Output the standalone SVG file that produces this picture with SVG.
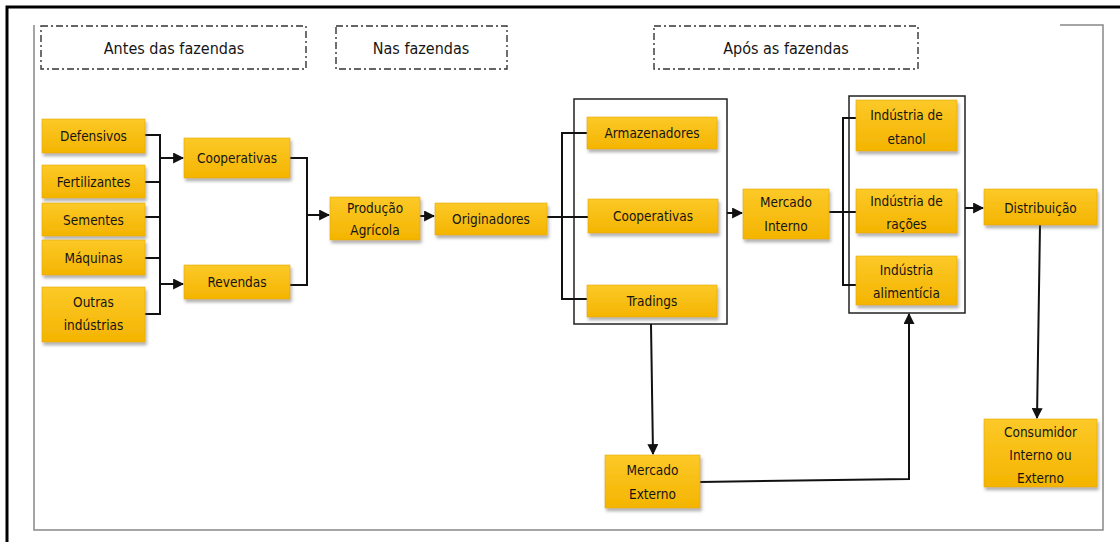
<svg xmlns="http://www.w3.org/2000/svg" width="1120" height="542" viewBox="0 0 1120 542">
<style>
.bx{fill:url(#g);stroke:#e3a900;stroke-width:0.6;filter:url(#sh)}
.t{font-family:"Liberation Sans Narrow","DejaVu Sans Condensed","Liberation Sans",sans-serif;font-size:13.5px;fill:#151515;text-anchor:middle;dominant-baseline:central}
.h{font-family:"Liberation Sans Narrow","DejaVu Sans Condensed","Liberation Sans",sans-serif;font-size:16px;fill:#151515;text-anchor:middle;dominant-baseline:central}
.hb{fill:none;stroke:#333;stroke-width:1.4;stroke-dasharray:7,3,2,3}
.c{fill:none;stroke:#111;stroke-width:2}
.grp{fill:none;stroke:#222;stroke-width:1.5}
</style>
<defs>
<linearGradient id="g" x1="0" y1="0" x2="0" y2="1">
<stop offset="0" stop-color="#fcc928"/>
<stop offset="1" stop-color="#f4b400"/>
</linearGradient>
<filter id="sh" x="-10%" y="-10%" width="130%" height="140%">
<feDropShadow dx="1.5" dy="3" stdDeviation="1.5" flood-color="#555" flood-opacity="0.45"/>
</filter>
<marker id="a" viewBox="0 0 10 10" refX="9" refY="5" markerWidth="5.5" markerHeight="5.5" orient="auto-start-reverse" markerUnits="strokeWidth">
<path d="M0,0 L10,5 L0,10 z" fill="#111"/>
</marker>
</defs>
<rect width="1120" height="542" fill="#fff"/>
<path d="M7,542 V7 H1120" fill="none" stroke="#000" stroke-width="3"/>
<path d="M34,25 V530 H1103 V25 H1060" fill="none" stroke="#888" stroke-width="1.5"/>

<g id="headers">
<g id="h-antes"><rect class="hb" x="41" y="26" width="265" height="43"/><text class="h" x="174" y="48">Antes das fazendas</text></g>
<g id="h-nas"><rect class="hb" x="336" y="26" width="171" height="43"/><text class="h" x="421" y="48">Nas fazendas</text></g>
<g id="h-apos"><rect class="hb" x="654" y="26" width="264" height="43"/><text class="h" x="786" y="48">Após as fazendas</text></g>
</g>

<g id="groups">
<rect class="grp" x="574" y="99" width="153" height="225"/>
<rect class="grp" x="849" y="96" width="116" height="217"/>
</g>

<g id="connectors">
<path class="c" d="M145,135 H160 M145,182 H160 M145,217 H160 M145,258 H160 M145,314 H160 M160,134 V315"/>
<path class="c" d="M160,158 H183" marker-end="url(#a)"/>
<path class="c" d="M160,284 H183" marker-end="url(#a)"/>
<path class="c" d="M290,158 H307 V285 H290"/>
<path class="c" d="M307,215 H329" marker-end="url(#a)"/>
<path class="c" d="M420,216 H434" marker-end="url(#a)"/>
<path class="c" d="M547,217 H588 M587,133 H562 V299 H587"/>
<path class="c" d="M727,213 H742" marker-end="url(#a)"/>
<path class="c" d="M829,212 H856 M856,118 H843 V285 H856"/>
<path class="c" d="M965,208 H983" marker-end="url(#a)"/>
<path class="c" d="M1040,225 L1037,418" marker-end="url(#a)"/>
<path class="c" d="M651,324 L653,454" marker-end="url(#a)"/>
<path class="c" d="M700,482 L909,479 V314" marker-end="url(#a)"/>
</g>

<g id="n-defensivos"><rect class="bx" x="42" y="119" width="103" height="34"/><text class="t" x="93.5" y="136">Defensivos</text></g>
<g id="n-fertilizantes"><rect class="bx" x="42" y="165" width="103" height="33"/><text class="t" x="93.5" y="181.5">Fertilizantes</text></g>
<g id="n-sementes"><rect class="bx" x="42" y="203" width="103" height="33"/><text class="t" x="93.5" y="219.5">Sementes</text></g>
<g id="n-maquinas"><rect class="bx" x="42" y="240" width="103" height="35"/><text class="t" x="93.5" y="258">Máquinas</text></g>
<g id="n-outras"><rect class="bx" x="42" y="287" width="103" height="55"/><text class="t" x="93.5" y="302">Outras</text><text class="t" x="93.5" y="325">indústrias</text></g>
<g id="n-cooperativas1"><rect class="bx" x="184" y="138" width="106" height="40"/><text class="t" x="237" y="158">Cooperativas</text></g>
<g id="n-revendas"><rect class="bx" x="184" y="265" width="106" height="34"/><text class="t" x="237" y="282">Revendas</text></g>
<g id="n-producao"><rect class="bx" x="330" y="197" width="90" height="43"/><text class="t" x="375" y="208">Produção</text><text class="t" x="375" y="230">Agrícola</text></g>
<g id="n-originadores"><rect class="bx" x="435" y="203" width="112" height="32"/><text class="t" x="491" y="219">Originadores</text></g>
<g id="n-armazenadores"><rect class="bx" x="587" y="117" width="130" height="32"/><text class="t" x="652" y="133">Armazenadores</text></g>
<g id="n-cooperativas2"><rect class="bx" x="588" y="199" width="130" height="34"/><text class="t" x="653" y="216">Cooperativas</text></g>
<g id="n-tradings"><rect class="bx" x="587" y="285" width="130" height="32"/><text class="t" x="652" y="301">Tradings</text></g>
<g id="n-mercado-interno"><rect class="bx" x="743" y="189" width="86" height="50"/><text class="t" x="786" y="202">Mercado</text><text class="t" x="786" y="226">Interno</text></g>
<g id="n-etanol"><rect class="bx" x="856" y="100" width="101" height="51"/><text class="t" x="906.5" y="115">Indústria de</text><text class="t" x="906.5" y="139">etanol</text></g>
<g id="n-racoes"><rect class="bx" x="856" y="189" width="101" height="44"/><text class="t" x="906.5" y="201">Indústria de</text><text class="t" x="906.5" y="224">rações</text></g>
<g id="n-alimenticia"><rect class="bx" x="856" y="256" width="101" height="49"/><text class="t" x="906.5" y="270">Indústria</text><text class="t" x="906.5" y="293">alimentícia</text></g>
<g id="n-distribuicao"><rect class="bx" x="984" y="189" width="113" height="36"/><text class="t" x="1040.5" y="208">Distribuição</text></g>
<g id="n-consumidor"><rect class="bx" x="984" y="419" width="113" height="68"/><text class="t" x="1040.5" y="432">Consumidor</text><text class="t" x="1040.5" y="455">Interno ou</text><text class="t" x="1040.5" y="478">Externo</text></g>
<g id="n-mercado-externo"><rect class="bx" x="605" y="455" width="95" height="53"/><text class="t" x="652.5" y="470">Mercado</text><text class="t" x="652.5" y="494">Externo</text></g>
</svg>
